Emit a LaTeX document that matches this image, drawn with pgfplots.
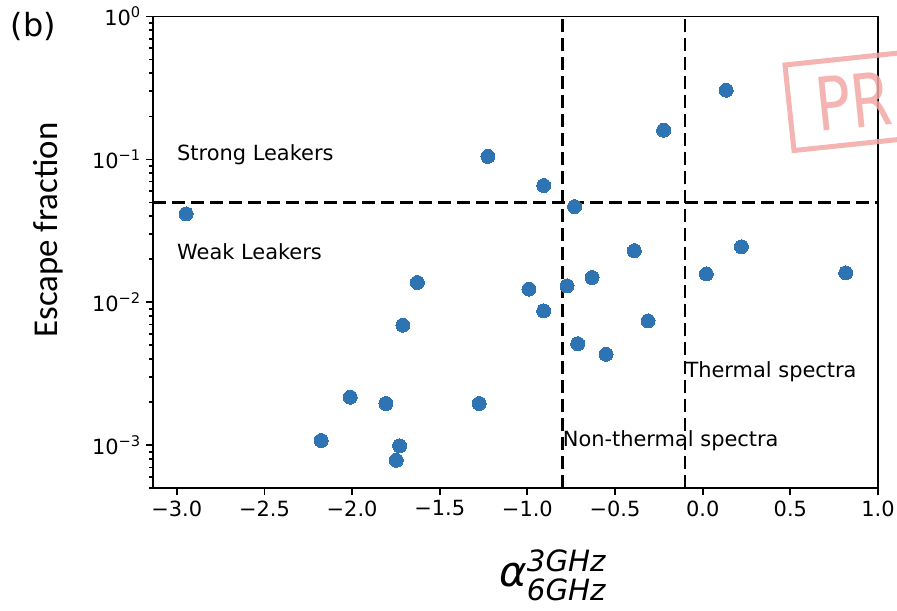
\documentclass[border=0pt]{standalone}
\usepackage{fontspec}
\setmainfont{DejaVu Sans}
\newfontfamily\carlito{Carlito}
\newfontfamily\stampfont[FakeStretch=0.8]{DejaVu Sans}
\usepackage{amsmath}
\usepackage{pgfplots}
\pgfplotsset{compat=1.18}
\definecolor{tabblue}{HTML}{2F74B2}
\definecolor{stampred}{HTML}{F2A7A4}

\pgfplotstableread{
x y
-2.947 0.0416
-2.176 0.00108
-2.011 0.00217
-1.807 0.00196
-1.748 0.000785
-1.729 0.00099
-1.710 0.00692
-1.628 0.01377
-1.275 0.00196
-1.225 0.105
-0.991 0.01239
-0.907 0.0657
-0.907 0.00871
-0.774 0.01305
-0.731 0.0468
-0.713 0.00514
-0.631 0.01493
-0.551 0.00433
-0.390 0.0230
-0.312 0.00742
-0.223 0.160
0.021 0.0158
0.134 0.305
0.221 0.0245
0.816 0.0161
}\datatable

\begin{document}
\begin{tikzpicture}
\begin{axis}[
  width=362.35bp, height=235.9bp, scale only axis,
  ymode=log,
  xmin=-3.134, xmax=1.0, ymin=5e-4, ymax=1,
  clip=false,
  axis line style={line width=0.9bp, black},
  tick style={line width=0.9bp, black},
  tick align=outside,
  xtick pos=bottom, ytick pos=left,
  major tick length=3.5bp, minor tick length=2bp,
  xtick={-3,-2.5,-2,-1.5,-1,-0.5,0,0.5,1},
  xticklabels={−3.0,−2.5,−2.0,−1.5,−1.0,−0.5,0.0,0.5,1.0},
  ytick={0.001,0.01,0.1,1},
  yticklabels={10\textsuperscript{−3},10\textsuperscript{−2},10\textsuperscript{−1},10\textsuperscript{0}},
  minor ytick={0.0005,0.0006,0.0007,0.0008,0.0009,0.002,0.003,0.004,0.005,0.006,0.007,0.008,0.009,0.02,0.03,0.04,0.05,0.06,0.07,0.08,0.09,0.2,0.3,0.4,0.5,0.6,0.7,0.8,0.9},
  tick label style={font=\fontsize{10.5}{12}\selectfont, text=black},
  xticklabel style={inner sep=2.5bp},
  yticklabel style={inner sep=2.3bp},
]
\node[anchor=west, rotate=6, draw=stampred, line width=2.5bp, text=stampred, opacity=0.85,
  font=\stampfont\fontsize{37}{40}\selectfont, inner xsep=13bp, inner ysep=8bp, text height=27bp, text depth=0pt,
  text width=120bp, align=left]
  at ([xshift=316.85bp,yshift=-45.75bp]rel axis cs:0,1) {PR};

\addplot[only marks, mark=*, mark size=3.5bp, mark options={fill=tabblue, draw=tabblue, line width=0pt}] table[x=x, y=y] {\datatable};

\addplot[black, line width=1.25bp, dash pattern=on 6.5bp off 3bp] coordinates {(-3.134,0.05) (1.0,0.05)};
\addplot[black, line width=1.25bp, dash pattern=on 6.5bp off 3bp] coordinates {(-0.8,5e-4) (-0.8,1)};
\addplot[black, line width=1.25bp, dash pattern=on 6.5bp off 3bp] coordinates {(-0.1,5e-4) (-0.1,1)};

\node[anchor=base west, inner sep=0pt, font=\fontsize{10.5}{12}\selectfont] at (axis cs:-3.0,0.098) {Strong Leakers};
\node[anchor=base west, inner sep=0pt, font=\fontsize{10.5}{12}\selectfont] at (axis cs:-3.0,0.0198) {Weak Leakers};
\node[anchor=base west, inner sep=0pt, font=\fontsize{10.5}{12}\selectfont] at (axis cs:-0.1,0.00297) {Thermal spectra};
\node[anchor=base west, inner sep=0pt, font=\fontsize{10.5}{12}\selectfont] at (axis cs:-0.8,0.00098) {Non-thermal spectra};

\node[rotate=90, font=\carlito\fontsize{17.5}{20}\selectfont] at ([xshift=-52.65bp]rel axis cs:0,0.5475) {Escape fraction};
\node[font=\fontsize{21}{24}\selectfont] at ([xshift=-2bp,yshift=-43.35bp]rel axis cs:0.557,0) {$\text{\itshape α}^{\text{\itshape 3GHz}}_{\text{\itshape 6GHz}}$};
\node[font=\fontsize{16}{19}\selectfont] at ([xshift=-59.9bp,yshift=-5bp]rel axis cs:0,1) {(b)};
\end{axis}
\pgfresetboundingbox
\path[use as bounding box] ([xshift=-76.65bp,yshift=-61.35bp]current axis.south west) rectangle ([xshift=9.5bp,yshift=8.25bp]current axis.north east);
\end{tikzpicture}
\end{document}
